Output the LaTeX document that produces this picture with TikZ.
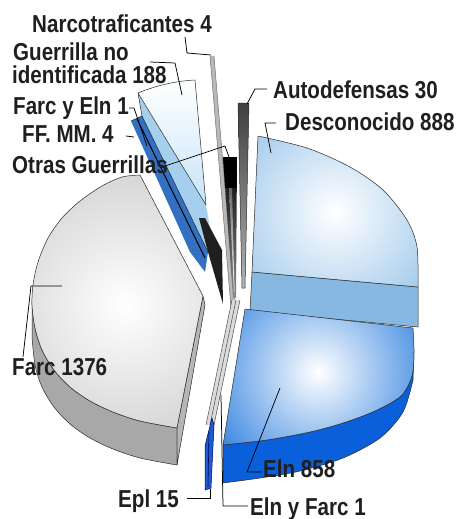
\documentclass[tikz,border=0pt]{standalone}
\usepackage{fontspec}
\newfontfamily\lab[FakeStretch=0.84]{Liberation Sans Bold}
\definecolor{farctop}{HTML}{BEBEBE}
\definecolor{farcband}{HTML}{A8A8A8}
\definecolor{farcrad}{HTML}{B6B6B6}
\definecolor{destop}{HTML}{86BAE6}
\definecolor{desrad}{HTML}{86B8E2}
\definecolor{elntop}{HTML}{1A74DC}
\definecolor{elnband}{HTML}{0A60DA}
\definecolor{gnitop}{HTML}{C6E4F6}
\definecolor{gniside}{HTML}{A4D0EE}
\definecolor{ffmm}{HTML}{3370C2}
\definecolor{epl}{HTML}{1C5ED0}
\definecolor{edge}{HTML}{2A2A2A}
\begin{document}
\begin{tikzpicture}[x=1pt,y=-1pt,line join=round,
  face/.style={draw=edge,line width=0.5pt},
  lead/.style={draw=black,line width=0.75pt},
  lbl/.style={anchor=base west,inner sep=0pt,font=\lab\fontsize{24.5}{26}\selectfont,text=black!88}]
\fill[white] (0,0) rectangle (458,519);
\useasboundingbox (0,0) rectangle (458,519);

% Narcotraficantes sliver
\fill[black!28] (210,56) -- (214,56) -- (236,320) -- (232,320) -- cycle;
\draw[black!55,line width=0.5pt] (210,56) -- (232,320) (214,56) -- (236,320);

% Guerrilla no identificada
\fill[gniside] (138,93) -- (206,205) -- (213,245) -- (208,252) -- (142,116) -- cycle;
\shade[top color=white,bottom color=gnitop] (138,93) .. controls (155,86) and (175,81) .. (195,80) -- (206,205) -- cycle;
\draw[face] (138,93) .. controls (155,86) and (175,81) .. (195,80) -- (206,205);
\draw[face] (138,93) -- (206,205);
\draw[face] (138,93) -- (142,116);

% FF. MM. strip and Farc y Eln line
\fill[ffmm] (131,121) -- (142,116) -- (208,252) -- (205,272) -- (190,252) -- cycle;
\draw[face] (131,121) -- (142,116) -- (208,252);
\draw[black,line width=1pt] (137,119) -- (205,258);
\fill[black!88] (199,218) -- (205,218) -- (222,250) -- (223,304) -- (208,252) -- cycle;

% Autodefensas
\shade[top color=black!75,bottom color=black!30] (238,103) -- (249,103) -- (245,288) -- (242,288) -- cycle;
\draw[face] (238,103) -- (249,103) -- (245,288) -- (242,288) -- cycle;

% Otras Guerrillas
\shade[top color=black,bottom color=black!45] (223,157) -- (237,157) -- (236,298) -- (233,298) -- cycle;
\fill[black] (223,157) -- (237,157) -- (236.6,188) -- (225.2,188) -- cycle;
\shade[top color=black!60,bottom color=white] (229,188) -- (232,188) -- (234.5,292) -- (234,292) -- cycle;

% Farc
\fill[farcband,draw=edge,line width=0.5pt] plot[smooth] coordinates {(32,300) (35,328) (42,350) (54,370) (70,387) (90,401) (113,412) (140,421) (177,428)} -- plot[smooth] coordinates {(177,465) (140,458) (113,449) (90,438) (70,424) (54,407) (42,387) (35,365) (32,337)} -- cycle;
\fill[farcrad,draw=edge,line width=0.5pt] (203,296) -- (177,428) -- (177,465) -- (205,305) -- cycle;
\def\farctop{(203,296) -- plot[smooth] coordinates {(140,175) (122,177) (102,186) (80,201) (62,218) (48,238) (38,262) (33,285) (32,305) (35,328) (42,350) (54,370) (70,387) (90,401) (113,412) (140,421) (177,428)} -- cycle}
\begin{scope}
\clip \farctop;
\shade[inner color=white,outer color=farctop] (125,305) circle (210pt);
\end{scope}
\draw[face] \farctop;

% lower slivers and Epl
\fill[black!14] (232,300) -- (240,300) -- (214,425) -- (206,425) -- cycle;
\draw[black!70,line width=0.5pt] (232,300) -- (206,425) (240,300) -- (214,425) (236,300) -- (210,425);
\fill[epl] (205,446) -- (212,418) -- (214,425) -- (211,488) -- (205,490) -- cycle;
\draw[black!60!blue,line width=0.5pt] (205,446) -- (212,418) -- (214,425) -- (211,488) -- (205,490) -- cycle;
\draw[black!60!blue,line width=0.6pt] (209,432) -- (208,487);

% Desconocido
\fill[desrad,draw=edge,line width=0.5pt] (252,272) -- (418,287) -- (418,327) -- (250,311) -- cycle;
\def\destop{(252,272) -- plot[smooth] coordinates {(258,136) (307,148) (350,167) (383,190) (407,220) (417,247) (418,287)} -- cycle}
\begin{scope}
\clip \destop;
\shade[inner color=white,outer color=destop] (335,212) circle (150pt);
\end{scope}
\draw[face] \destop;

% Eln
\fill[elnband,draw=edge,line width=0.5pt] plot[smooth] coordinates {(414,352) (412,376) (401,396) (375,411) (343,423) (310,432) (267,440) (223,445)} -- plot[smooth] coordinates {(223,483) (260,478) (300,471) (343,458) (380,438) (403,412) (413,380)} -- cycle;
\def\elntop{(245,309) -- plot[smooth] coordinates {(413,328) (414,352) (412,376) (401,396) (375,411) (343,423) (310,432) (267,440) (223,445)} -- cycle}
\begin{scope}
\clip \elntop;
\shade[inner color=white,outer color=elntop] (318,372) circle (140pt);
\end{scope}
\draw[face] \elntop;

% leaders
\draw[lead] (185,37) -- (187,53) -- (211,55);
\draw[lead] (150,62) -- (175,63) -- (182,95);
\draw[lead] (129,108) -- (134,108) -- (147,146);
\draw[lead] (126,136) -- (134,137);
\draw[lead] (165,166) -- (225,146) -- (229,157);
\draw[lead] (267,89) -- (255,89) -- (247,104);
\draw[lead] (276,123) -- (265,123) -- (271,153);
\draw[lead] (62,286) -- (31,286) -- (23,357);
\draw[lead] (262,472) -- (247,472) -- (280,388);
\draw[lead] (248,506) -- (223,506) -- (221,395);
\draw[lead] (187,498) -- (210,498) -- (210,489);

% labels
\node[lbl] (narco) at (32,33) {Narcotraficantes 4};
\node[lbl] (gni1) at (13,60) {Guerrilla no};
\node[lbl] (gni2) at (12,83) {identificada 188};
\node[lbl] (fye) at (13,114) {Farc y Eln 1};
\node[lbl] (ffmm) at (22,142) {FF. MM. 4};
\node[lbl] (otras) at (12,173) {Otras Guerrillas};
\node[lbl] (auto) at (273,98) {Autodefensas 30};
\node[lbl] (desc) at (285,130) {Desconocido 888};
\node[lbl] (farc) at (12,375) {Farc 1376};
\node[lbl] (eln) at (263,477) {Eln 858};
\node[lbl] (eyf) at (250,515) {Eln y Farc 1};
\node[lbl] (epl) at (118,507) {Epl 15};
\end{tikzpicture}
\end{document}
